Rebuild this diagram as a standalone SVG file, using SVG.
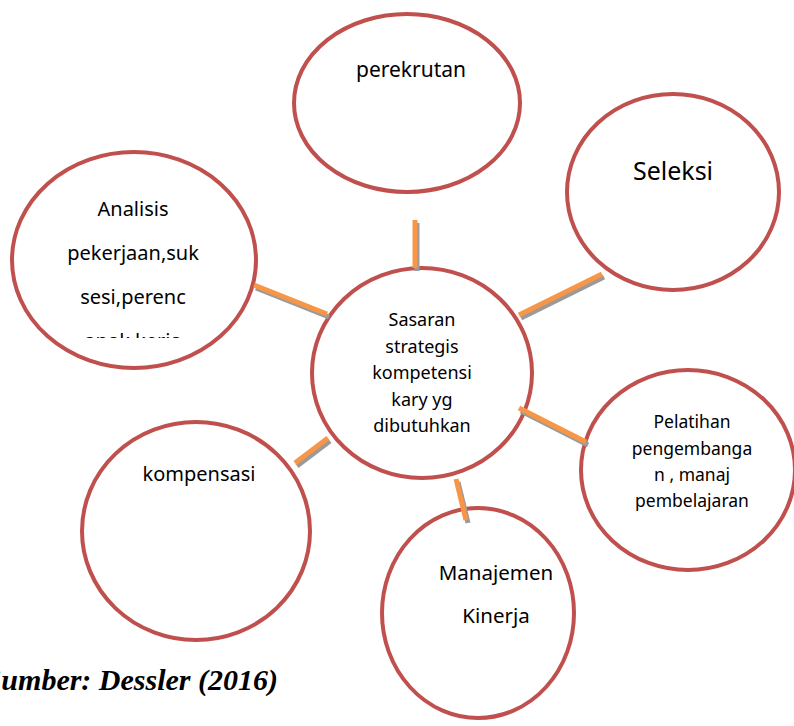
<svg xmlns="http://www.w3.org/2000/svg" width="794" height="726" viewBox="0 0 794 726">
<style>
.node ellipse{fill:#fff;stroke:#C0504D;stroke-width:4}
.t{font-family:"Noto Sans","Open Sans",sans-serif;fill:#000;text-anchor:middle}
.sh{stroke:#9a9a9a;stroke-width:5}
.ln{stroke:#F79646;stroke-width:5}
.cap{font-family:"Liberation Serif","Times New Roman",serif;font-weight:bold;font-style:italic;font-size:30px;text-anchor:end}
</style>
<defs>
<clipPath id="clipA"><rect x="0" y="0" width="794" height="338"/></clipPath>
</defs>
<rect width="794" height="726" fill="#fff"/>
<g id="n-perekrutan" class="node">
<ellipse cx="407" cy="103" rx="113" ry="89"/>
<text class="t" x="411" y="77" font-size="21">perekrutan</text>
</g>
<g id="n-seleksi" class="node">
<ellipse cx="673" cy="192" rx="106" ry="98"/>
<text class="t" x="673" y="180" font-size="25">Seleksi</text>
</g>
<g id="n-analisis" class="node">
<ellipse cx="134" cy="260" rx="122" ry="108"/>
<g class="t" font-size="20">
<text x="133" y="216">Analisis</text>
<text x="133" y="260">pekerjaan,suk</text>
<text x="133" y="304">sesi,perenc</text>
<text x="133" y="348" clip-path="url(#clipA)">anak kerja</text>
</g>
</g>
<g id="n-pelatihan" class="node">
<ellipse cx="688" cy="470" rx="107" ry="100"/>
<g class="t" font-size="17.5">
<text x="692" y="428">Pelatihan</text>
<text x="692" y="455">pengembanga</text>
<text x="692" y="481">n , manaj</text>
<text x="692" y="507">pembelajaran</text>
</g>
</g>
<g id="n-kompensasi" class="node">
<ellipse cx="196" cy="531" rx="114" ry="109"/>
<text class="t" x="199" y="481" font-size="20">kompensasi</text>
</g>
<g id="n-manajemen" class="node">
<ellipse cx="478" cy="613" rx="96" ry="105"/>
<g class="t" font-size="20.5">
<text x="496" y="580">Manajemen</text>
<text x="496" y="623">Kinerja</text>
</g>
</g>
<g id="n-center" class="node">
<ellipse cx="422" cy="373" rx="110" ry="105"/>
<g class="t" font-size="18">
<text x="422" y="326">Sasaran</text>
<text x="422" y="352.5">strategis</text>
<text x="422" y="379">kompetensi</text>
<text x="422" y="405.5">kary yg</text>
<text x="422" y="432">dibutuhkan</text>
</g>
</g>
<g id="connectors">
<g class="sh" transform="translate(2,3)">
<line x1="415" y1="220" x2="415" y2="268"/>
<line x1="519" y1="315" x2="602" y2="274"/>
<line x1="254" y1="285" x2="327" y2="314"/>
<line x1="519" y1="408" x2="586" y2="442"/>
<line x1="295" y1="463" x2="328" y2="438"/>
<line x1="456" y1="479" x2="466" y2="520"/>
</g>
<g class="ln">
<line x1="415" y1="220" x2="415" y2="268"/>
<line x1="519" y1="315" x2="602" y2="274"/>
<line x1="254" y1="285" x2="327" y2="314"/>
<line x1="519" y1="408" x2="586" y2="442"/>
<line x1="295" y1="463" x2="328" y2="438"/>
<line x1="456" y1="479" x2="466" y2="520"/>
</g>
</g>
<text class="cap" x="278" y="690">Sumber: Dessler (2016)</text>
</svg>
